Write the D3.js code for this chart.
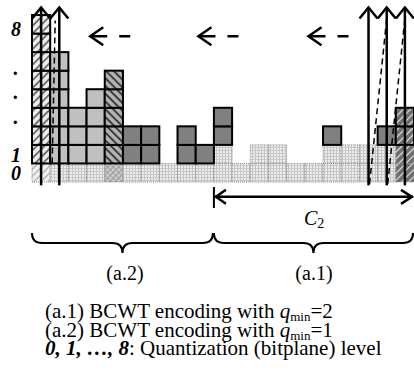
<!DOCTYPE html>
<html>
<head>
<meta charset="utf-8">
<script src="https://cdn.jsdelivr.net/npm/d3@7"></script>
<style>
  body { margin: 0; background: #fff; }
  text { font-family: "Liberation Serif", "Times New Roman", serif; fill: #000; }
</style>
</head>
<body>
<div id="chart"></div>
<script>
var width = 414, height = 383;

// bitplane columns, highest level reached by each coefficient
var columns = d3.range(21);
var heights = [8, 6, 3, 4, 5, 2, 2, 0, 2, 1, 3, 0, 1, 1, 0, 0, 2, 1, 1, 2, 3];
var styles = ["hatchL", "light", "light", "light", "hatchD", "dark", "dark", "dark", "dark", "dark",
              "dark", "dark", "dark", "dark", "dark", "dark", "dark", "dark", "dark", "dark", "hatchW"];

// the two encoding passes
var regionLabels = ["(a.2)", "(a.1)"];
var regionStart = [0, 10];
var regionEnd = [10, 21];
var regionQmin = [1, 2];

// level labels on the left
var levelLabels = ["0", "1", ".", ".", ".", "8"];
var levelLabelPos = [0, 0.95, 3.0, 4.35, 5.65, 7.75];

var upArrowCols = [0, 1, 18, 19, 20];
var dashedLinks = [[18, 19], [19, 20]];
var backArrowPos = [3.2, 9.15, 15.2];

var legendLines = ["(a.1) BCWT encoding with ", "(a.2) BCWT encoding with ", ": Quantization (bitplane) level"];
var legendQ = ["2", "1"];

var x = d3.scaleBand().domain(columns).range([32, 414]).padding(0);
var xl = d3.scaleLinear().domain([0, 21]).range([32, 414]);
var y = d3.scaleLinear().domain([0, 9]).range([182, 15]);

var svg = d3.select("#chart").append("svg")
	.attr("width", width)
	.attr("height", height)
	.attr("viewBox", "0 0 " + width + " " + height);

var defs = svg.append("defs");

function stripes(id, bg, fg, w, angle, gap) {
	var p = defs.append("pattern")
		.attr("id", id)
		.attr("patternUnits", "userSpaceOnUse")
		.attr("width", gap).attr("height", gap)
		.attr("patternTransform", "rotate(" + angle + ")");
	p.append("rect").attr("width", gap).attr("height", gap).attr("fill", bg);
	p.append("line").attr("x1", gap / 2).attr("x2", gap / 2).attr("y1", 0).attr("y2", gap)
		.attr("stroke", fg).attr("stroke-width", w);
	return p;
}
stripes("hatchL", "#ececec", "#2a2a2a", 1.2, 45, 5.5);
stripes("hatchL0", "#f2f2f2", "#a8a8a8", 1.3, 45, 5);
stripes("hatchD", "#b4b4b4", "#3a3a3a", 2, -45, 5.5);
stripes("hatchW", "#6c6c6c", "#e0e0e0", 1.2, 45, 5);
var cross = stripes("cross", "#d4d4d4", "#8a8a8a", 1, 45, 4);
cross.append("line").attr("x1", 0).attr("x2", 4).attr("y1", 2).attr("y2", 2)
	.attr("stroke", "#9a9a9a").attr("stroke-width", 1);

var dots = defs.append("pattern")
	.attr("id", "dots")
	.attr("patternUnits", "userSpaceOnUse")
	.attr("width", 3).attr("height", 3);
dots.append("rect").attr("width", 3).attr("height", 3).attr("fill", "#eeeeee");
dots.append("rect").attr("width", 1).attr("height", 3).attr("fill", "#c2c2c2");
dots.append("rect").attr("width", 3).attr("height", 1).attr("fill", "#c8c8c8");

var fills = { light: "#c0c0c0", dark: "#808080", hatchL: "url(#hatchL)", hatchD: "url(#hatchD)", hatchW: "url(#hatchW)" };
var lowFill = { hatchL: "url(#hatchL0)", hatchD: "url(#cross)", hatchW: "url(#hatchW)" };

var cells = [];
columns.forEach(function(c) {
	var r = c < regionStart[1] ? 0 : 1;
	for (var lv = 0; lv <= heights[c]; lv++) {
		cells.push({ col: c, level: lv, coded: lv >= regionQmin[r], style: styles[c] });
	}
});

var grid = svg.append("g");

grid.selectAll("rect.low")
	.data(cells.filter(function(d) { return !d.coded; }))
	.enter().append("rect")
	.attr("class", "low")
	.attr("x", function(d) { return x(d.col); })
	.attr("y", function(d) { return y(d.level + 1); })
	.attr("width", x.bandwidth())
	.attr("height", function(d) { return y(d.level) - y(d.level + 1); })
	.attr("fill", function(d) { return lowFill[d.style] || "url(#dots)"; })
	.attr("stroke", "#8c8c8c")
	.attr("stroke-width", 1)
	.attr("stroke-dasharray", "1,1");

grid.selectAll("rect.coded")
	.data(cells.filter(function(d) { return d.coded; }))
	.enter().append("rect")
	.attr("class", "coded")
	.attr("x", function(d) { return x(d.col); })
	.attr("y", function(d) { return y(d.level + 1); })
	.attr("width", x.bandwidth())
	.attr("height", function(d) { return y(d.level) - y(d.level + 1); })
	.attr("fill", function(d) { return fills[d.style]; })
	.attr("stroke", "#000")
	.attr("stroke-width", 2);

// level labels
svg.selectAll("text.lvl")
	.data(levelLabels)
	.enter().append("text")
	.attr("class", "lvl")
	.attr("x", 16)
	.attr("y", function(d, i) { return y(levelLabelPos[i] + 0.5) + 7; })
	.attr("text-anchor", "middle")
	.attr("font-size", "20px")
	.attr("font-weight", "bold")
	.attr("font-style", "italic")
	.text(function(d) { return d; });

// dashed links between up arrows
var cx = function(c) { return x(c) + x.bandwidth() / 2; };
svg.selectAll("line.link")
	.data(dashedLinks)
	.enter().append("line")
	.attr("x1", function(d) { return cx(d[0]) + 1; })
	.attr("y1", y(-0.1))
	.attr("x2", function(d) { return cx(d[1]); })
	.attr("y2", y(8.8))
	.attr("stroke", "#000")
	.attr("stroke-width", 1.5)
	.attr("stroke-dasharray", "6,4");
svg.append("line")
	.attr("x1", x(1) + 2).attr("y1", y(1))
	.attr("x2", x(1) + 5).attr("y2", y(8.7))
	.attr("stroke", "#000")
	.attr("stroke-width", 1.5)
	.attr("stroke-dasharray", "6,4");

// up arrows
var ups = svg.selectAll("g.up")
	.data(upArrowCols)
	.enter().append("g")
	.attr("class", "up");
ups.append("line")
	.attr("x1", cx).attr("x2", cx)
	.attr("y1", y(-0.18)).attr("y2", y(9.4))
	.attr("stroke", "#000").attr("stroke-width", 2.5);
ups.append("path")
	.attr("d", function(c) {
		var t = y(9.4);
		return "M" + (cx(c) - 9) + "," + (t + 11) + "L" + cx(c) + "," + t + "L" + (cx(c) + 9) + "," + (t + 11);
	})
	.attr("fill", "none").attr("stroke", "#000").attr("stroke-width", 2.5);

// dashed back arrows
var backs = svg.selectAll("g.back")
	.data(backArrowPos)
	.enter().append("g")
	.attr("class", "back")
	.attr("transform", function(d) { return "translate(" + xl(d) + "," + y(7.85) + ")"; });
backs.append("path")
	.attr("d", "M13,-9L0,0L13,9")
	.attr("fill", "none").attr("stroke", "#000").attr("stroke-width", 2.5);
backs.append("path")
	.attr("d", "M0,0H17M29,0H40")
	.attr("fill", "none").attr("stroke", "#000").attr("stroke-width", 2.5);

// C2 span
var c2y = y(-0.8);
var c2 = svg.append("g").attr("stroke", "#000").attr("fill", "none").attr("stroke-width", 2.5);
c2.append("line").attr("x1", xl(10)).attr("x2", xl(10)).attr("y1", y(-0.27)).attr("y2", y(-1.4)).attr("stroke-width", 2);
c2.append("line").attr("x1", xl(10) + 1).attr("x2", xl(21) - 1).attr("y1", c2y).attr("y2", c2y);
c2.append("path").attr("d", "M" + (xl(10) + 12) + "," + (c2y - 7) + "L" + (xl(10) + 2) + "," + c2y + "L" + (xl(10) + 12) + "," + (c2y + 7));
c2.append("path").attr("d", "M" + (xl(21) - 13) + "," + (c2y - 7) + "L" + (xl(21) - 2) + "," + c2y + "L" + (xl(21) - 13) + "," + (c2y + 7));
var c2t = svg.append("text")
	.attr("x", 304).attr("y", 225)
	.attr("font-size", "20px");
c2t.append("tspan").attr("font-style", "italic").text("C");
c2t.append("tspan").attr("font-size", "14px").attr("dy", 3).text("2");

// braces
function brace(a, b, top) {
	var m = (a + b) / 2, h = 10;
	return "M" + a + "," + top +
		"Q" + a + "," + (top + h) + " " + (a + h) + "," + (top + h) +
		"L" + (m - h) + "," + (top + h) +
		"Q" + m + "," + (top + h) + " " + m + "," + (top + 2 * h) +
		"Q" + m + "," + (top + h) + " " + (m + h) + "," + (top + h) +
		"L" + (b - h) + "," + (top + h) +
		"Q" + b + "," + (top + h) + " " + b + "," + top;
}
var braceTop = 233;
svg.selectAll("path.brace")
	.data(regionLabels)
	.enter().append("path")
	.attr("class", "brace")
	.attr("d", function(d, i) { return brace(xl(regionStart[i]), xl(regionEnd[i]) - 1, braceTop); })
	.attr("fill", "none").attr("stroke", "#000").attr("stroke-width", 2);
svg.selectAll("text.region")
	.data(regionLabels)
	.enter().append("text")
	.attr("class", "region")
	.attr("x", function(d, i) { return (xl(regionStart[i]) + xl(regionEnd[i])) / 2 + (i ? 0 : 2); })
	.attr("y", 280)
	.attr("text-anchor", "middle")
	.attr("font-size", "20px")
	.text(function(d) { return d; });

// legend text
var lg = svg.append("g").attr("font-size", "21px");
legendQ.forEach(function(q, i) {
	var t = lg.append("text").attr("x", 45).attr("y", 318 + i * 18.5);
	t.append("tspan").text(legendLines[i]);
	t.append("tspan").attr("font-style", "italic").text("q");
	t.append("tspan").attr("font-size", "13px").attr("dy", 3).text("min");
	t.append("tspan").attr("dy", -3).text("=" + q);
});
var t3 = lg.append("text").attr("x", 45).attr("y", 355);
t3.append("tspan").attr("font-weight", "bold").attr("font-style", "italic").text("0, 1, …, 8");
t3.append("tspan").text(legendLines[2]);
</script>
</body>
</html>
